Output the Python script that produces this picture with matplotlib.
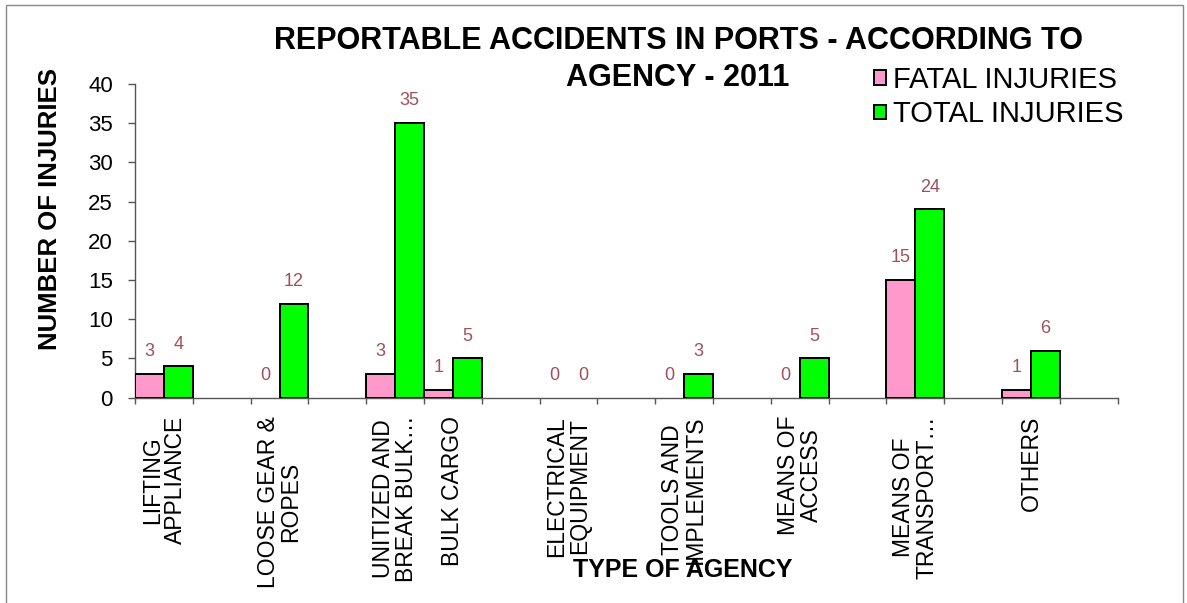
import matplotlib
matplotlib.use("Agg")
import matplotlib.pyplot as plt
import numpy as np
from matplotlib.patches import Rectangle

plt.rcParams['font.family'] = ['Liberation Sans', 'DejaVu Sans']

# ---- data ----
categories = ["LIFTING\nAPPLIANCE", "", "LOOSE GEAR &\nROPES", "",
              "UNITIZED AND\nBREAK BULK\u2026", "BULK CARGO", "",
              "ELECTRICAL\nEQUIPMENT", "", "TOOLS AND\nIMPLEMENTS", "",
              "MEANS OF\nACCESS", "", "MEANS OF\nTRANSPORT\u2026", "",
              "OTHERS", ""]
fatal_injuries = [3, None, 0, None, 3, 1, None, 0, None, 0, None, 0, None, 15, None, 1, None]
total_injuries = [4, None, 12, None, 35, 5, None, 0, None, 3, None, 5, None, 24, None, 6, None]
series_names = ["FATAL INJURIES", "TOTAL INJURIES"]
title_lines = ["REPORTABLE ACCIDENTS IN PORTS - ACCORDING TO", "AGENCY - 2011"]
xlabel = "TYPE OF AGENCY"
ylabel = "NUMBER OF INJURIES"
yticks = [0, 5, 10, 15, 20, 25, 30, 35, 40]

# ---- style ----
W, H = 1187, 603
pink = "#FF99CC"
green = "#00FF00"
label_color = "#A0505A"

fig = plt.figure(figsize=(W / 100, H / 100), dpi=100)
ax = fig.add_axes([135 / W, 1 - 397.7 / H, (1117.7 - 135) / W, (397.7 - 84) / H])

n = len(categories)
x = np.arange(n)
bw = 0.5

def to_arr(v):
    return np.array([np.nan if a is None else a for a in v], dtype=float)

f = to_arr(fatal_injuries)
t = to_arr(total_injuries)

bf = ax.bar(x - bw / 2, np.nan_to_num(f), bw, color=pink, edgecolor="black",
            linewidth=1.4, label=series_names[0], zorder=3)
bt = ax.bar(x + bw / 2, np.nan_to_num(t), bw, color=green, edgecolor="black",
            linewidth=1.4, label=series_names[1], zorder=3)

for bars, vals in ((bf, f), (bt, t)):
    for b, v in zip(bars, vals):
        if np.isnan(v):
            b.set_visible(False)
            continue
        if v == 0:
            b.set_visible(False)
        ax.annotate(f"{int(v)}", (b.get_x() + b.get_width() / 2, v),
                    xytext=(0, 16), textcoords="offset points",
                    ha="center", va="center", fontsize=13, color=label_color)

ax.set_xlim(-0.5, n - 0.5)
ax.set_ylim(0, 40)
ax.set_yticks(yticks)
ax.set_yticklabels([str(v) for v in yticks], fontsize=16)
ax.tick_params(axis="y", length=5, width=1, pad=11, color="#555555")

ax.set_xticks(np.arange(-0.5, n, 1.0))
ax.set_xticklabels([])
ax.tick_params(axis="x", length=4, width=1, color="#555555")
ax.set_xticks(x, minor=True)
ax.set_xticklabels(categories, minor=True, rotation=90, fontsize=16.5,
                   ha="center", va="top", multialignment="center", linespacing=1.0)
ax.tick_params(axis="x", which="minor", length=0, pad=13)

for s in ("top", "right"):
    ax.spines[s].set_visible(False)
for s in ("left", "bottom"):
    ax.spines[s].set_color("#555555")
    ax.spines[s].set_linewidth(1)

fig.text(678 / W, 1 - 41 / H, title_lines[0], ha="center", va="center",
         fontsize=22, fontweight="bold")
fig.text(678 / W, 1 - 78 / H, title_lines[1], ha="center", va="center",
         fontsize=22, fontweight="bold")
fig.text(50 / W, 1 - 209 / H, ylabel, rotation=90, ha="center", va="center",
         fontsize=18.5, fontweight="bold")
fig.text(683 / W, 1 - 570 / H, xlabel, ha="center", va="center",
         fontsize=18, fontweight="bold")

fig.legend(handles=[bf, bt], labels=series_names, loc="upper left",
           bbox_to_anchor=(874 / W, 1 - 66 / H), frameon=False, fontsize=21,
           handlelength=0.4, handleheight=0.4, handletextpad=0.25,
           labelspacing=0.22, borderpad=0, borderaxespad=0)

fig.patches.append(Rectangle((6 / W, -0.05), (1183 - 6) / W, 1.05 - 5 / H,
                             transform=fig.transFigure, fill=False,
                             edgecolor="#888888", linewidth=1))

fig.savefig("out.png", dpi=100)
